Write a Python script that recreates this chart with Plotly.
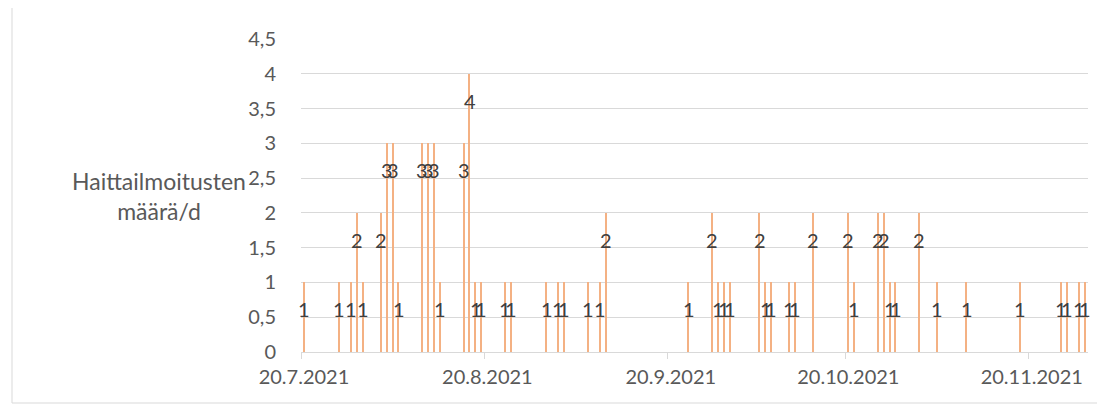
import plotly.graph_objects as go
import pandas as pd

# ---- data ----
dates = [
    "2021-07-20", "2021-07-26", "2021-07-28", "2021-07-29", "2021-07-30",
    "2021-08-02", "2021-08-03", "2021-08-04", "2021-08-05", "2021-08-09",
    "2021-08-10", "2021-08-11", "2021-08-12", "2021-08-16", "2021-08-17",
    "2021-08-18", "2021-08-19", "2021-08-23", "2021-08-24", "2021-08-30",
    "2021-09-01", "2021-09-02", "2021-09-06", "2021-09-08", "2021-09-09",
    "2021-09-23", "2021-09-27", "2021-09-28", "2021-09-29", "2021-09-30",
    "2021-10-05", "2021-10-06", "2021-10-07", "2021-10-10", "2021-10-11",
    "2021-10-14", "2021-10-20", "2021-10-21", "2021-10-25", "2021-10-26",
    "2021-10-27", "2021-10-28", "2021-11-01", "2021-11-04", "2021-11-09",
    "2021-11-18", "2021-11-25", "2021-11-26", "2021-11-28", "2021-11-29",
]
counts = [
    1, 1, 1, 2, 1,
    2, 3, 3, 1, 3,
    3, 3, 1, 3, 4,
    1, 1, 1, 1, 1,
    1, 1, 1, 1, 2,
    1, 2, 1, 1, 1,
    2, 1, 1, 1, 1,
    2, 2, 1, 2, 2,
    1, 1, 2, 1, 1,
    1, 1, 1, 1, 1,
]
tick_dates = ["2021-07-20", "2021-08-20", "2021-09-20", "2021-10-20", "2021-11-20"]
tick_labels = ["20.7.2021", "20.8.2021", "20.9.2021", "20.10.2021", "20.11.2021"]
y_ticks = [0, 0.5, 1, 1.5, 2, 2.5, 3, 3.5, 4, 4.5]
y_title = "Haittailmoitusten<br>määrä/d"

# ---- styling / layout (page pixel targets; page body has an 8px margin) ----
OFF = 8
W, H = 1105 - OFF, 405 - OFF
PLOT_L, PLOT_R, PLOT_T, PLOT_B = 301, 1088, 39, 352   # page pixels
L = PLOT_L - OFF
T = PLOT_T - OFF
R = W - (PLOT_R - OFF)
B = H - (PLOT_B - OFF)
pw = W - L - R
ph = H - T - B


def px_x(page_x):
    return (page_x - OFF - L) / pw


def px_y(page_y):
    return (H - B - (page_y - OFF)) / ph


BAR_COLOR = "#F4B183"
GRID = "#d9d9d9"
TICK_TXT = "#595959"
LABEL_TXT = "#404040"
FONT = "Lato"
HALF_DAY = pd.Timedelta(hours=12)
DAY_MS = 86400000

d = pd.to_datetime(dates)
x_range = [d.min() - HALF_DAY, d.max() + HALF_DAY]
minor_ticks = list(pd.to_datetime(tick_dates) - HALF_DAY)

fig = go.Figure()
fig.add_trace(go.Bar(
    x=d, y=counts, width=0.24 * DAY_MS,
    marker=dict(color=BAR_COLOR, line_width=0),
    showlegend=False, hoverinfo="x+y",
))

annotations = []
for xi, c in zip(d, counts):
    annotations.append(dict(
        x=xi, y=c, xref="x", yref="y", text=str(c), showarrow=False,
        yanchor="middle", yshift=-27,
        font=dict(family=FONT, size=20, color=LABEL_TXT),
    ))

annotations.append(dict(
    x=px_x(159), y=px_y(196), xref="paper", yref="paper",
    text=y_title, showarrow=False, align="center",
    xanchor="center", yanchor="middle",
    font=dict(family=FONT, size=23, color=TICK_TXT),
))

fig.update_layout(
    width=W, height=H,
    margin=dict(l=L, r=R, t=T, b=B, pad=0),
    paper_bgcolor="white", plot_bgcolor="white",
    separators=", ",
    bargap=0,
    annotations=annotations,
    font=dict(family=FONT, size=20, color=TICK_TXT),
    shapes=[dict(
        type="rect", xref="paper", yref="paper",
        x0=px_x(12), x1=px_x(1103),
        y0=px_y(403), y1=px_y(-5),
        line=dict(color=GRID, width=1), fillcolor="rgba(0,0,0,0)",
        layer="below",
    )],
)
fig.update_xaxes(
    type="date", range=x_range,
    tickmode="array", tickvals=list(pd.to_datetime(tick_dates)), ticktext=tick_labels,
    ticks="", showgrid=False, zeroline=False,
    showline=True, linecolor=GRID, linewidth=1,
    ticklabelstandoff=7,
    tickfont=dict(family=FONT, size=20, color=TICK_TXT),
    minor=dict(tickmode="array", tickvals=minor_ticks, ticks="outside",
               ticklen=6, tickcolor=GRID, tickwidth=1, showgrid=False),
)
fig.update_yaxes(
    range=[0, 4.5], tickmode="array", tickvals=y_ticks,
    showgrid=True, gridcolor=GRID, gridwidth=1,
    zeroline=False, showline=False, ticks="",
    ticklabelstandoff=24,
    tickfont=dict(family=FONT, size=20, color=TICK_TXT),
)

fig.write_html("out.html")
